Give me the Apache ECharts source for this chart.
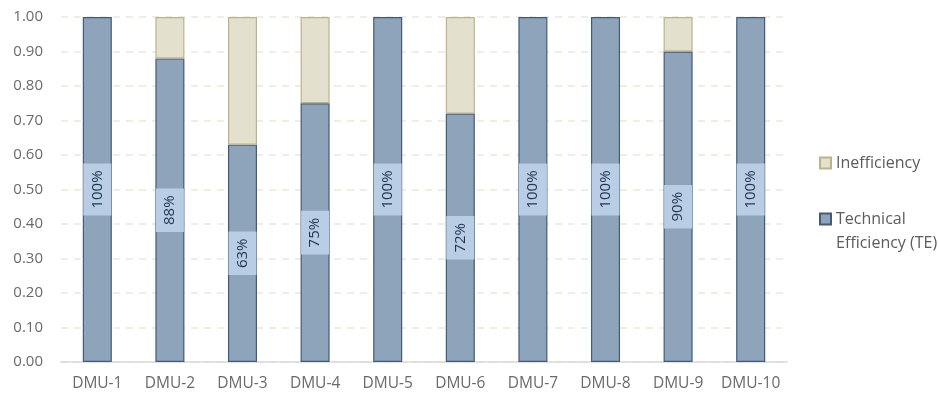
<!DOCTYPE html>
<html>
<head>
<meta charset="utf-8">
<script src="https://cdn.jsdelivr.net/npm/echarts@6/dist/echarts.min.js"></script>
<style>
  html, body { margin: 0; padding: 0; background: #fff; }
  #chart { width: 939px; height: 396px; }
</style>
</head>
<body>
<div id="chart"></div>
<script>
// Decision-making units on the x axis
const categories = ['DMU-1', 'DMU-2', 'DMU-3', 'DMU-4', 'DMU-5', 'DMU-6', 'DMU-7', 'DMU-8', 'DMU-9', 'DMU-10'];
// Technical efficiency score of each unit (0..1)
const technicalEfficiency = [1.00, 0.88, 0.63, 0.75, 1.00, 0.72, 1.00, 1.00, 0.90, 1.00];
// Remaining gap to full efficiency
const inefficiency = [0.00, 0.12, 0.37, 0.25, 0.00, 0.28, 0.00, 0.00, 0.10, 0.00];
// Value-axis ticks
const yTicks = [0, 0.1, 0.2, 0.3, 0.4, 0.5, 0.6, 0.7, 0.8, 0.9, 1.0];

const FONT = '"Open Sans", sans-serif';
const TEXT = '#6a6a6a';
const LEGEND_TEXT = '#5c5c5c';

const chart = echarts.init(document.getElementById('chart'), null, { renderer: 'canvas' });

chart.setOption({
  animation: false,
  backgroundColor: '#ffffff',
  grid: { left: 61, right: 152, top: 17, bottom: 34, containLabel: false },
  legend: [
    {
      data: ['Inefficiency'],
      left: 819, top: 153,
      padding: 0,
      itemWidth: 11, itemHeight: 11, itemGap: 0,
      icon: 'rect',
      textStyle: { color: LEGEND_TEXT, fontFamily: FONT, fontSize: 16, lineHeight: 20 }
    },
    {
      data: ['Technical Efficiency (TE)'],
      left: 819, top: 183,
      padding: 0,
      itemWidth: 11, itemHeight: 11, itemGap: 0,
      icon: 'rect',
      // blank first line keeps the swatch level with "Technical"
      formatter: () => '\nTechnical\nEfficiency (TE)',
      textStyle: { color: LEGEND_TEXT, fontFamily: FONT, fontSize: 16, lineHeight: 24 }
    }
  ],
  xAxis: {
    type: 'category',
    data: categories,
    axisLine: { show: true, lineStyle: { color: '#d9d9d9', width: 1.5 } },
    axisTick: { show: false },
    axisLabel: { color: TEXT, fontFamily: FONT, fontSize: 15.5, margin: 14, interval: 0 }
  },
  yAxis: {
    type: 'value',
    min: yTicks[0],
    max: yTicks[yTicks.length - 1],
    interval: yTicks[1] - yTicks[0],
    axisLine: { show: false },
    axisTick: { show: false },
    axisLabel: {
      color: TEXT, fontFamily: FONT, fontSize: 15, margin: 18,
      formatter: v => v.toFixed(2)
    },
    splitLine: { show: true, lineStyle: { color: '#ece8d9', width: 1.5, type: [7, 6] } }
  },
  series: [
    {
      name: 'Technical Efficiency (TE)',
      type: 'bar',
      stack: 'total',
      barWidth: '40%',
      data: technicalEfficiency,
      itemStyle: { color: '#8ea4bb', borderColor: '#445a76', borderWidth: 1.2 },
      label: {
        show: true,
        position: 'inside',
        rotate: 90,
        formatter: p => Math.round(p.value * 100) + '%',
        color: '#1f3550',
        fontFamily: FONT,
        fontSize: 15,
        lineHeight: 18,
        backgroundColor: '#b9cde4',
        padding: [5, 7]
      }
    },
    {
      name: 'Inefficiency',
      type: 'bar',
      stack: 'total',
      barWidth: '40%',
      data: inefficiency.map(v => (v > 0 ? v : null)),
      itemStyle: { color: '#e4e0ce', borderColor: '#bcb38c', borderWidth: 1.2 }
    }
  ]
});
</script>
</body>
</html>
